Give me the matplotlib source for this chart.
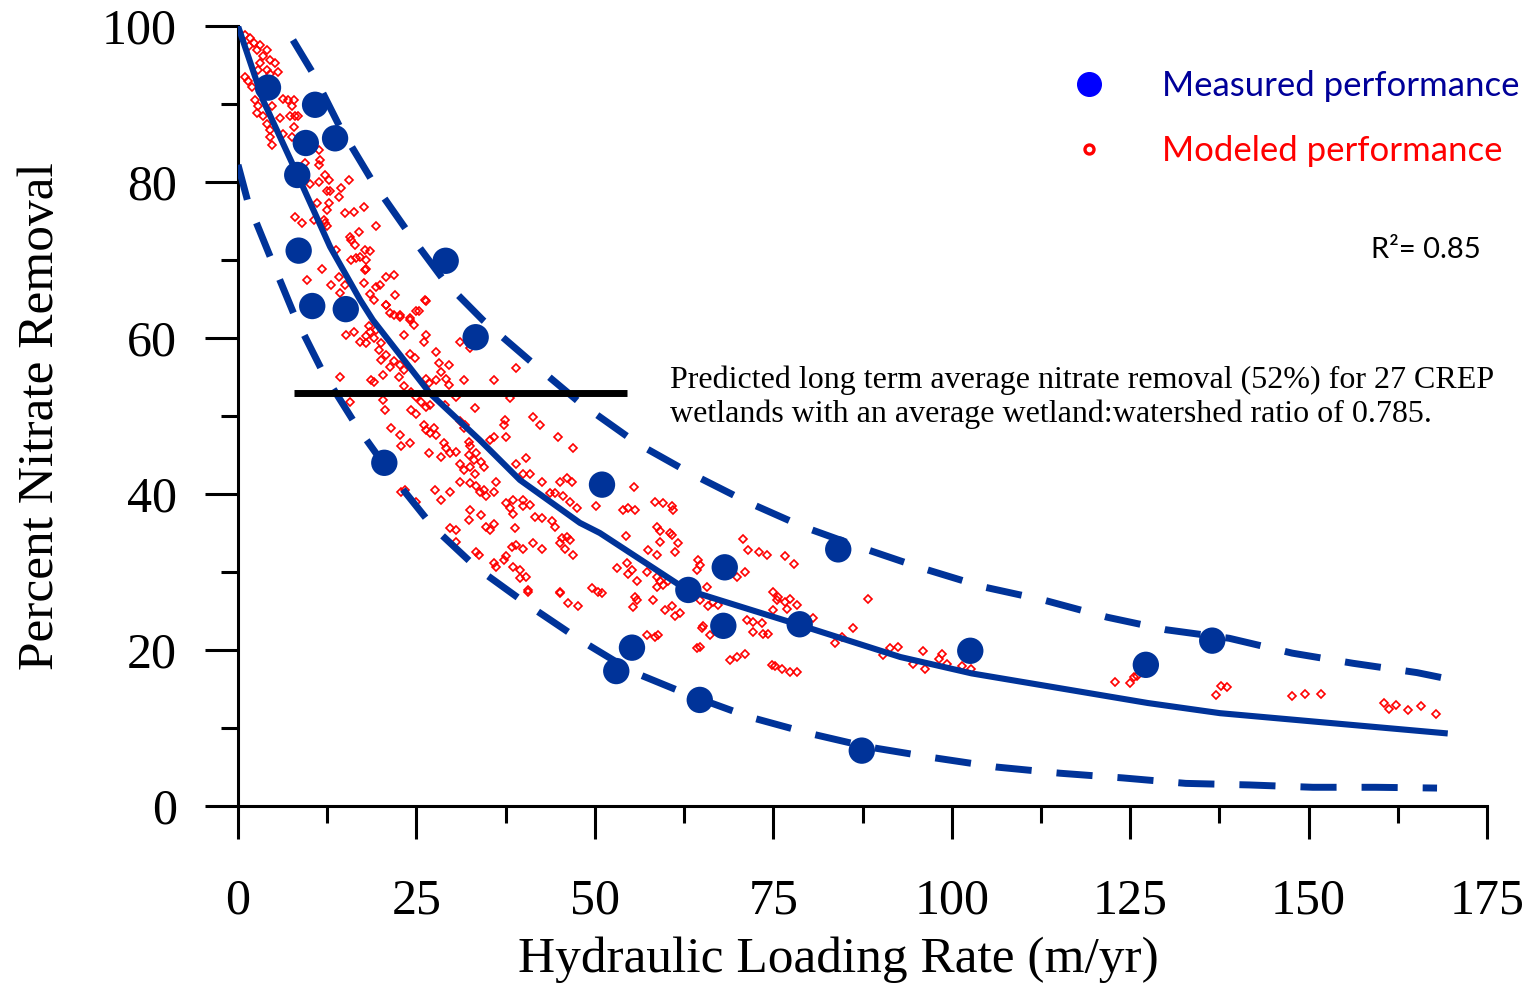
import matplotlib
matplotlib.use("Agg")
import matplotlib.pyplot as plt
from matplotlib.lines import Line2D
import numpy as np

# ---------------- data ----------------
# Measured performance (blue dots)
measured_x = [4.2, 10.8, 9.5, 13.6, 8.3, 8.5, 29.1, 10.4, 15.1, 33.3, 20.5, 51.0,
              84.1, 68.2, 63.1, 68.0, 78.7, 55.2, 53.0, 64.7, 87.4, 102.6, 127.2, 136.5]
measured_y = [92.1, 89.9, 85.0, 85.6, 80.9, 71.2, 69.9, 64.1, 63.7, 60.1, 44.0, 41.2,
              32.9, 30.6, 27.7, 23.1, 23.3, 20.3, 17.3, 13.6, 7.1, 19.9, 18.1, 21.2]

# Modeled performance (red diamonds)
modeled_x = [
    1.0, 1.7, 2.2, 1.5, 2.6, 3.1, 4.0, 3.5, 4.5, 5.2, 5.6, 3.1, 2.8, 4.0, 4.5, 1.0, 1.4, 1.9,
    2.4, 2.8, 2.6, 3.5, 4.0, 4.5, 4.7, 4.5, 6.3, 7.0, 7.8, 7.5, 7.3, 8.0, 8.4, 5.9, 6.3, 7.5,
    7.8, 4.7, 11.3, 11.5, 11.3, 9.4, 10.1, 12.2, 12.7, 11.3, 12.4, 12.9, 14.1, 14.5, 15.5, 11.0,
    12.7, 12.4, 15.0, 16.2, 17.6, 8.0, 8.9, 10.6, 12.0, 12.2, 12.4, 19.4, 15.7, 16.9, 15.9, 16.4,
    17.8, 18.5, 13.8, 17.1, 15.9, 16.6, 18.0, 18.0, 17.8, 11.7, 9.6, 13.1, 14.1, 14.3, 15.0, 17.6,
    18.5, 19.4, 19.9, 20.8, 21.8, 22.0, 19.0, 20.8, 25.0, 26.2, 24.1, 22.7, 21.3,
    20.8, 21.8, 22.7, 24.1, 24.6, 25.3, 26.4, 18.3, 18.5, 18.0, 19.4, 15.2, 16.2, 17.1, 18.0, 19.0,
    20.1, 19.7, 20.8, 21.8, 21.3, 20.1, 22.7, 23.2, 24.1, 24.8, 26.0, 26.4, 23.2, 27.8, 28.1, 29.5,
    28.5, 29.2, 27.8, 26.4, 26.7, 29.5, 31.6, 31.1, 32.5, 35.8, 39.0, 14.3, 19.0, 18.7, 20.3, 22.5,
    23.2, 24.3, 25.0, 25.7, 24.3, 25.0, 26.4, 26.9, 29.0, 30.6, 33.2, 38.1, 20.3, 20.6, 15.7, 21.5,
    22.7, 24.1, 22.9, 26.0, 26.4, 26.9, 27.4, 27.8, 28.8, 29.2, 29.7, 28.5, 26.7, 30.6, 31.1, 31.8,
    31.6, 32.3, 32.5, 32.3, 33.4, 34.1, 34.4, 35.3, 35.8, 37.4, 37.2, 37.6, 41.4, 42.3, 44.9, 47.0,
    31.1, 31.6, 32.5, 33.2, 33.0, 31.1, 32.5, 33.4, 34.4, 33.9, 34.8, 35.8, 36.2, 37.6, 38.6, 40.0,
    39.0, 40.4, 40.0, 40.9, 42.6, 43.7, 44.4, 45.1, 46.1, 46.8, 45.6, 46.5, 47.5, 27.6, 29.7, 28.5,
    23.4, 22.9, 25.0, 32.5, 32.3, 34.1, 35.3, 34.8, 35.8, 38.1, 38.6, 38.8, 40.0, 40.9, 41.6, 42.6,
    44.0, 44.4, 45.4, 46.1, 46.5, 30.6, 29.7, 30.6, 33.4, 33.7, 35.8, 36.2, 37.2, 37.6, 38.4, 39.0,
    40.0, 38.6, 39.5, 39.5, 40.4, 40.7, 45.1, 41.4, 42.6, 45.1, 45.8, 47.0, 40.7,
    55.5, 50.2, 54.0, 54.7, 55.6, 58.4, 59.6, 60.8, 61.0, 58.7, 59.1, 60.5, 60.8, 54.4, 57.5, 58.7,
    59.1, 61.7, 61.2, 53.1, 54.5, 54.7, 55.2, 55.9, 57.3, 58.7, 59.1, 59.6, 60.3, 58.7, 64.5, 64.7,
    64.3, 65.7, 66.6, 67.3, 65.9, 64.7, 55.6, 55.9, 55.4, 58.2, 59.8, 60.8, 61.2, 61.9, 49.6, 50.5,
    51.0, 45.1, 46.3, 47.7, 57.3, 58.4, 58.9, 64.3, 64.7, 65.0, 65.2, 66.1, 68.9, 69.9, 71.0, 70.7,
    71.5, 73.0, 74.1, 76.6, 77.9, 71.0, 69.9, 75.0, 75.7, 75.5, 76.6, 77.3, 78.3, 76.9, 75.0, 71.3,
    72.2, 73.4, 73.6, 72.2, 74.3, 80.6, 83.7, 84.6, 86.2, 88.3, 90.4, 91.4, 92.5, 74.8, 75.2, 76.2,
    77.3, 78.3,
    94.6, 96.0, 96.3, 98.2, 98.7, 99.3, 101.5, 102.7, 122.9, 125.0, 125.9, 125.6, 137.0, 137.7,
    138.6, 147.7, 149.5, 151.7, 160.5, 161.2, 162.3, 164.0, 165.8, 167.9]
modeled_y = [
    98.8, 98.4, 97.8, 97.4, 96.9, 97.6, 96.9, 96.1, 95.6, 95.2, 94.1, 95.2, 94.4, 94.4, 93.9, 93.5, 92.9, 92.2,
    90.5, 89.7, 88.8, 88.4, 87.5, 86.7, 84.7, 85.8, 90.7, 90.5, 90.5, 89.7, 88.4, 88.4, 88.4, 88.2, 86.2, 85.8,
    87.1, 89.7, 84.1, 82.8, 82.2, 82.4, 79.8, 80.9, 80.3, 80.0, 78.8, 78.8, 78.1, 79.2, 80.3, 77.3,
    77.3, 76.4, 76.0, 76.2, 76.8, 75.5, 74.7, 75.1, 75.1, 74.7, 74.3, 74.3, 73.0, 73.6, 72.6, 71.9,
    71.3, 71.1, 71.3, 70.4, 70.0, 70.2, 70.0, 68.9, 68.7, 68.9, 67.4, 66.8, 67.8, 65.8, 66.8, 67.0,
    65.7, 66.6, 66.8, 67.8, 68.1, 65.5, 64.9, 64.2, 63.4, 64.9, 62.6, 63.0, 63.2,
    64.2, 62.9, 62.7, 62.3, 61.7, 63.4, 64.7, 61.5, 60.8, 60.2, 61.0, 60.4, 60.8, 59.5, 59.3, 60.0,
    59.3, 58.5, 57.8, 57.0, 56.3, 57.2, 56.5, 55.9, 58.0, 57.4, 59.5, 60.4, 60.4, 58.2, 56.8, 56.5,
    55.7, 54.8, 54.6, 54.8, 54.2, 54.0, 54.6, 59.5, 58.7, 54.6, 56.1, 55.0, 54.4, 54.6, 55.3, 55.0,
    53.8, 53.1, 52.5, 51.8, 50.8, 50.3, 51.2, 51.4, 51.4, 52.5, 51.0, 52.3, 52.1, 50.8, 51.8, 48.4,
    47.6, 46.5, 46.1, 48.8, 48.2, 47.8, 48.4, 47.6, 46.5, 45.9, 45.2, 44.8, 45.2, 45.4, 49.3, 48.8,
    48.4, 46.7, 46.1, 45.0, 45.2, 44.1, 43.5, 46.9, 47.3, 49.5, 48.8, 47.3, 49.9, 48.8, 47.3, 45.9,
    43.9, 43.1, 43.5, 42.6, 44.4, 41.6, 41.4, 41.0, 40.5, 40.3, 39.7, 40.3, 41.6, 38.8, 39.2, 39.2,
    43.9, 44.6, 42.6, 42.6, 41.6, 40.1, 40.1, 41.6, 42.0, 41.6, 39.7, 39.0, 38.2, 40.5, 40.3, 39.2,
    40.5, 40.3, 39.0, 38.0, 36.7, 37.3, 35.4, 35.8, 36.2, 38.2, 37.5, 35.6, 38.4, 38.6, 37.1, 36.9,
    36.5, 35.8, 34.3, 34.5, 34.1, 35.4, 35.6, 33.9, 32.6, 32.2, 31.1, 30.7, 31.5, 32.0, 33.2, 33.5,
    33.0, 30.7, 30.2, 29.2, 29.4, 27.7, 27.3, 33.7, 33.0, 33.7, 33.0, 32.2, 27.5,
    40.9, 38.5, 38.0, 38.2, 38.0, 39.0, 38.8, 38.4, 37.9, 35.8, 35.2, 35.0, 34.7, 34.6, 32.8, 32.2,
    33.9, 33.7, 32.6, 30.5, 31.1, 29.8, 30.3, 28.8, 30.0, 29.4, 28.9, 28.3, 28.8, 28.1, 31.5, 30.9,
    30.3, 28.1, 26.2, 25.8, 25.6, 26.4, 26.8, 26.4, 25.5, 26.4, 25.1, 25.6, 24.3, 24.7, 27.9, 27.5,
    27.3, 27.5, 26.0, 25.6, 21.9, 21.7, 21.9, 20.2, 20.4, 22.8, 23.1, 21.9, 18.7, 19.1, 19.5, 34.2,
    32.8, 32.6, 32.2, 32.1, 31.0, 30.0, 29.4, 27.5, 26.8, 26.4, 26.2, 26.6, 25.8, 25.3, 25.1, 23.8,
    23.6, 23.4, 22.1, 22.3, 22.1, 24.1, 20.9, 21.7, 22.8, 26.5, 19.4, 20.2, 20.4, 18.1, 17.9, 17.6,
    17.2, 17.2,
    18.2, 19.9, 17.6, 18.8, 19.5, 18.2, 17.9, 17.6, 15.9, 15.8, 16.7, 16.5, 14.2, 15.4,
    15.2, 14.1, 14.4, 14.4, 13.2, 12.5, 12.9, 12.3, 12.8, 11.8]

# Fitted model curve (solid) and bounds (dashed)
fit_x = [0, 3.5, 8.2, 12.9, 17.1, 18.9, 26.9, 33.9, 39.5, 47.9, 50.7, 62.9, 78.7, 92.8,
         102.8, 127.5, 137.6, 169.5]
fit_y = [100, 90.5, 81.2, 71.7, 64.9, 62.3, 52.9, 46.9, 41.8, 36.3, 35.0, 27.7, 23.2, 19.1,
         17.0, 13.2, 11.9, 9.3]
upper_x = [7.7, 10.4, 14.3, 18.9, 23.8, 29.0, 34.3, 41.9, 47.9, 55.9, 63.3, 71.3, 79.2, 87.4,
           95.8, 104.4, 112.9, 121.8, 130.0, 138.9, 147.7, 156.2, 165.2, 169.5]
upper_y = [98.2, 94.1, 87.0, 80.0, 73.6, 67.2, 62.3, 56.3, 51.7, 46.5, 42.7, 39.0, 35.8, 33.1,
           30.5, 28.1, 26.4, 24.2, 22.6, 21.5, 19.6, 18.3, 17.1, 16.3]
lower_x = [0, 1.4, 4.7, 8.0, 11.9, 16.7, 21.7, 27.3, 33.5, 40.6, 47.9, 55.3, 63.3, 71.7, 80.1,
           88.1, 97.4, 106.2, 115.2, 124.0, 132.8, 141.7, 150.6, 159.4, 168.0]
lower_y = [82.2, 77.4, 70.0, 62.7, 55.6, 48.6, 42.2, 35.8, 30.5, 25.8, 21.3, 17.2, 14.2, 11.4, 9.3,
           7.6, 6.2, 5.0, 4.2, 3.6, 2.9, 2.7, 2.4, 2.4, 2.3]

# Predicted long-term average line
avg_x = [7.8, 54.5]
avg_y = [52.9, 52.9]

x_ticks = [0, 25, 50, 75, 100, 125, 150, 175]
y_ticks = [0, 20, 40, 60, 80, 100]

# ---------------- style ----------------
BLUE = "#003399"
SERIF = ["Liberation Serif", "DejaVu Serif"]
SANS = ["Lato", "DejaVu Sans"]

fig = plt.figure(figsize=(15.31, 9.84), dpi=100)
ax = fig.add_axes([238 / 1531, 1 - 806 / 984, (1487 - 238) / 1531, (806 - 26) / 984])

ax.plot(modeled_x, modeled_y, linestyle="none", marker="D", markersize=4.3,
        markerfacecolor="none", markeredgecolor="#FF0000", markeredgewidth=1.2, zorder=2)
ax.plot(fit_x, fit_y, color=BLUE, linewidth=4.4, solid_capstyle="butt", zorder=3)
ax.plot(upper_x, upper_y, color=BLUE, linewidth=5, dashes=(5.2, 3.6), zorder=3)
ax.plot(lower_x, lower_y, color=BLUE, linewidth=5, dashes=(5.2, 3.6), zorder=3)
ax.plot(avg_x, avg_y, color="black", linewidth=5, solid_capstyle="butt", zorder=4)
ax.scatter(measured_x, measured_y, s=360, color=BLUE, edgecolors="none", zorder=5)

ax.set_xlim(0, 175)
ax.set_ylim(0, 100)
ax.set_xticks(x_ticks)
ax.set_yticks(y_ticks)
ax.set_xticks(np.arange(12.5, 175, 25), minor=True)
ax.set_yticks(np.arange(10, 100, 20), minor=True)
ax.set_xticklabels([str(t) for t in x_ticks], fontfamily=SERIF, fontsize=36)
ax.set_yticklabels([str(t) for t in y_ticks], fontfamily=SERIF, fontsize=36)
ax.tick_params(axis="both", which="major", direction="out", length=24, width=2.2, color="black")
ax.tick_params(axis="both", which="minor", direction="out", length=12, width=2.2, color="black")
ax.tick_params(axis="x", which="major", pad=28)
ax.tick_params(axis="y", which="major", pad=20)

for side in ["top", "right"]:
    ax.spines[side].set_visible(False)
for side in ["left", "bottom"]:
    ax.spines[side].set_linewidth(2.2)
    ax.spines[side].set_color("black")

ax.set_xlabel("Hydraulic Loading Rate (m/yr)", fontfamily=SERIF, fontsize=37, labelpad=8.5)
ax.xaxis.label.set_x(0.481)
ax.set_ylabel("Percent Nitrate Removal", fontfamily=SERIF, fontsize=37, labelpad=27)

ax.text(60.5, 52.4, "Predicted long term average nitrate removal (52%) for 27 CREP\n"
        "wetlands with an average wetland:watershed ratio of 0.785.",
        fontfamily=SERIF, fontsize=23, ha="left", va="center", linespacing=1.22, zorder=6)

ax.text(166.5, 71.3, "R\u00b2= 0.85", fontfamily=SANS, fontsize=21, ha="center", va="center")

handles = [
    Line2D([], [], linestyle="none", marker="o", markersize=17, markerfacecolor="#0000FF",
           markeredgecolor="#0000FF"),
    Line2D([], [], linestyle="none", marker="o", markersize=6.5, markerfacecolor="white",
           markeredgecolor="#FF0000", markeredgewidth=2.4),
]
leg = ax.legend(handles, ["Measured performance", "Modeled performance"],
                loc="upper left", bbox_to_anchor=(0.669, 0.943), frameon=False,
                prop={"family": SANS, "size": 25}, handlelength=0.9, handletextpad=1.65,
                labelspacing=0.95, borderpad=0, borderaxespad=0,
                labelcolor=["#000099", "#FF0000"])

fig.savefig("out.png", dpi=100)
